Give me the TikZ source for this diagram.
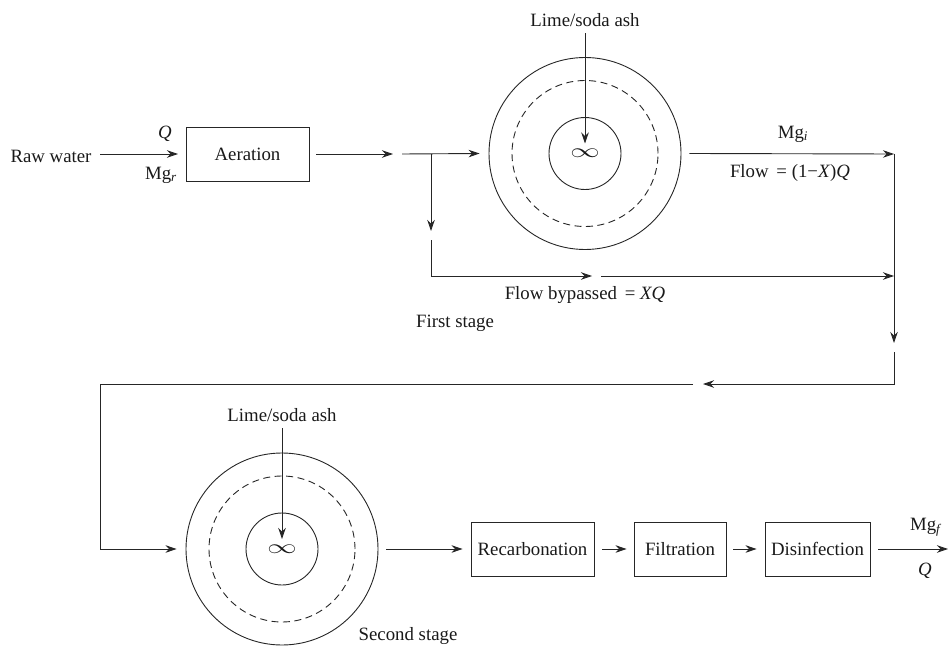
\documentclass[tikz,border=0pt]{standalone}
\usepackage{fontspec}
\setmainfont{Liberation Serif}
\usetikzlibrary{arrows.meta}

\tikzset{
  flecha/.style={-{Stealth[length=11pt,width=7.5pt,inset=3.5pt]}},
  caja/.style={draw, minimum height=54pt, inner sep=0pt},
  tanque/.style={circle, draw, inner sep=0pt, minimum size=192pt},
  zona/.style={circle, draw, dash pattern=on 7pt off 4.5pt, inner sep=0pt, minimum size=146pt},
  mezcla/.style={circle, draw, inner sep=0pt, minimum size=72pt},
}
\newcommand{\mezclador}{\scalebox{1.7}[1.15]{$\infty$}}

\begin{document}
\begin{tikzpicture}[x=1pt, y=-1pt, line width=0.9pt, draw=black!85, text=black!90,
    font=\fontsize{18.8}{22}\selectfont]
    \useasboundingbox (0,0) rectangle (950,647);
    % Primera etapa
    \node (raw) at (51,156) {Raw water};
    \node[caja, minimum width=123pt] (aer) at (247.5,154) {Aeration};
    \node[tanque] (t1) at (585,153.5) {};
    \node[zona] (z1) at (t1) {};
    \node[mezcla] (m1) at (t1) {\mezclador};
    \node (cal1) at (585,20) {Lime/soda ash};
    \node (q0) at (165,134) {\textit{Q}};
    \node (mgr) at (161,175) {Mg\textsubscript{\textit{r}}};
    \node (mgi) at (793,134) {Mg\textsubscript{\textit{i}}};
    \node (flow) at (790,173) {Flow\, = (1−\textit{X})\textit{Q}};
    \node (byp) at (585,295) {Flow bypassed\, = \textit{XQ}};
    \node (st1) at (455,323) {First stage};
    \coordinate (a1) at (178,154);
    \coordinate (a2) at (393,154);
    \coordinate (a3) at (402,154);
    \coordinate (b0) at (431,154);
    \coordinate (b1) at (431,231);
    \coordinate (b2) at (431,240);
    \coordinate (b3) at (592,276);
    \coordinate (b4) at (601,276);
    \coordinate (r1) at (894,154);
    \coordinate (r2) at (894,276);
    \coordinate (r3) at (894,343);
    \coordinate (r4) at (894,352);
    \draw[flecha] (100,154) -- (a1);
    \draw[flecha] ([xshift=7pt]aer.east) -- (a2);
    \draw[flecha] (a3) -- ([xshift=-9pt]t1.west);
    \draw[flecha] (b0) -- (b1);
    \draw[flecha] (b2) |- (b3);
    \draw[flecha] (b4) -- (r2);
    \draw[flecha] (cal1.south) ++(0,3) -- ([yshift=10pt]m1.center);
    \draw[flecha] ([xshift=8pt]t1.east) -- (r1);
    \draw[flecha] (r1) -- (r3);
    % Segunda etapa
    \node[tanque] (t2) at (282,549) {};
    \node[zona] (z2) at (t2) {};
    \node[mezcla] (m2) at (t2) {\mezclador};
    \node (cal2) at (282,415) {Lime/soda ash};
    \node[caja, minimum width=123pt] (rec) at (532.5,549) {Recarbonation};
    \node[caja, minimum width=92pt] (fil) at (680,549) {Filtration};
    \node[caja, minimum width=105pt] (dis) at (817.5,549) {Disinfection};
    \node (mgf) at (926,527) {Mg\textsubscript{\textit{f}}};
    \node (qf) at (925,571) {\textit{Q}};
    \node (st2) at (408,636) {Second stage};
    \coordinate (c1) at (703,384);
    \coordinate (c2) at (693,384);
    \coordinate (c3) at (100,384);
    \coordinate (sal) at (948,549);
    \draw[flecha] (r4) |- (c1);
    \draw[flecha] (c2) -- (c3) |- ([xshift=-9pt]t2.west);
    \draw[flecha] (cal2.south) ++(0,3) -- ([yshift=10pt]m2.center);
    \draw[flecha] ([xshift=8pt]t2.east) -- ([xshift=-8pt]rec.west);
    \draw[flecha] ([xshift=8pt]rec.east) -- ([xshift=-7pt]fil.west);
    \draw[flecha] ([xshift=7pt]fil.east) -- ([xshift=-8pt]dis.west);
    \draw[flecha] ([xshift=8pt]dis.east) -- (sal);
\end{tikzpicture}
\end{document}
